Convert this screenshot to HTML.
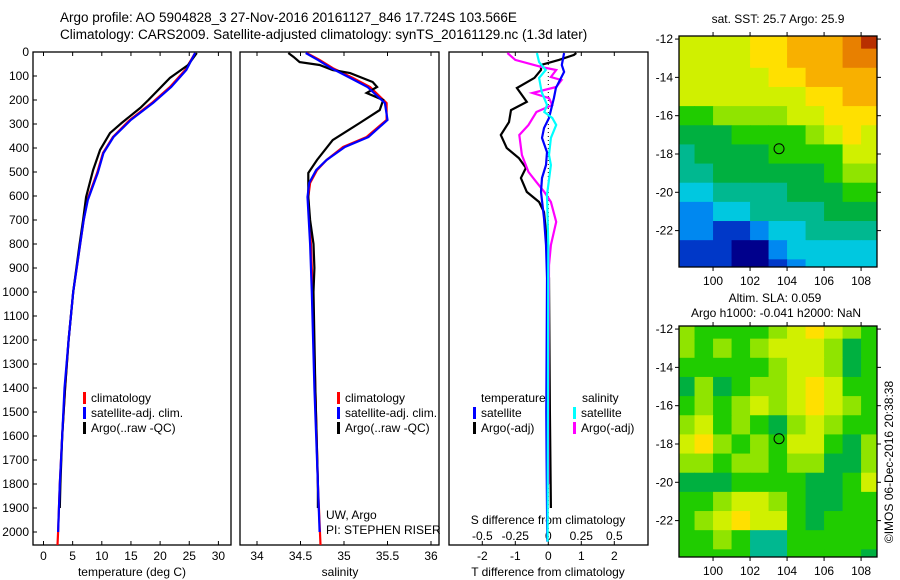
<!DOCTYPE html>
<html><head><meta charset="utf-8"><style>
body{margin:0;background:#fff}
svg{display:block;font-family:"Liberation Sans",sans-serif;font-size:12px}
</style></head><body>
<svg id="fig" width="900" height="580" viewBox="0 0 900 580">
<rect width="900" height="580" fill="#fff"/>
<text x="60" y="22" font-size="13.5">Argo profile: AO 5904828_3 27-Nov-2016 20161127_846 17.724S 103.566E</text>
<text x="60" y="39" font-size="13.5">Climatology: CARS2009. Satellite-adjusted climatology: synTS_20161129.nc (1.3d later)</text>
<g id="g"></g>
<text transform="translate(893,462) rotate(-90)" text-anchor="middle" font-size="12">©IMOS 06-Dec-2016 20:38:38</text>
</svg>
<script>
// ---------- profile data ----------
const tClimDepth=[4,75,146,212,283,354,421,504,617,700,800,1000,1200,1400,1600,1800,2000,2054];
const tClimVal=[26.0,24.3,21.7,18.6,14.8,11.9,10.2,9.2,7.5,6.9,6.3,5.1,4.3,3.7,3.2,2.8,2.5,2.4];
const tSatDepth=[4,75,146,212,283,354,421,504,617,700,800,1000,1200,1400,1600,1800,2000];
const tSatVal=[26.0,24.5,21.9,18.8,15.0,12.0,10.3,9.3,7.6,6.9,6.3,5.1,4.3,3.6,3.2,2.8,2.5];
const tArgoDepth=[4,54,108,200,233,296,338,408,492,604,700,800,1000,1200,1400,1600,1800,1900];
const tArgoVal=[26.3,24.8,21.7,18.0,16.6,13.4,11.4,9.7,8.5,7.3,6.8,6.2,5.1,4.3,3.7,3.2,2.9,2.8];
const sClimDepth=[4,33,67,108,146,213,283,354,396,450,492,546,604,800,1000,1400,1800,2054];
const sClimVal=[34.57,34.72,34.87,35.10,35.30,35.49,35.49,35.26,34.99,34.80,34.69,34.61,34.59,34.62,34.64,34.67,34.70,34.73];
const sSatDepth=[4,33,67,108,146,213,283,354,396,450,492,546,604,800,1000,1400,1800,2000];
const sSatVal=[34.56,34.70,34.85,35.07,35.27,35.47,35.50,35.28,35.01,34.80,34.68,34.60,34.58,34.61,34.63,34.66,34.70,34.72];
const sArgoDepth=[4,20,42,54,75,88,125,146,171,200,242,296,367,450,504,604,700,800,900,1000,1400,1800,1900];
const sArgoVal=[34.36,34.42,34.49,34.72,34.87,35.07,35.33,35.38,35.26,35.45,35.41,35.18,34.87,34.69,34.59,34.59,34.61,34.65,34.66,34.65,34.67,34.70,34.70];
const dTSatDepth=[4,54,83,150,192,275,317,358,417,471,525,583,692,804,942,1500,1700,2040];
const dTSatVal=[0.48,0.41,0.48,0.23,0.17,0.02,-0.13,-0.19,-0.04,-0.07,-0.19,-0.22,-0.13,-0.07,-0.04,-0.06,-0.05,-0.03];
const dTArgoDepth=[4,12,33,54,75,108,150,208,242,292,346,400,442,483,525,583,625,667,750,833,942,1500,1900];
const dTArgoVal=[0.85,0.78,0.32,-0.22,-0.22,-0.42,-0.95,-0.65,-1.13,-1.19,-1.44,-1.26,-0.89,-0.68,-0.83,-0.65,-0.28,-0.13,-0.07,-0.04,0.02,0.05,0.08];
const dSSatDepth=[4,42,75,108,167,221,250,275,304,358,429,471,596,804,2040];
const dSSatVal=[-0.086,-0.07,-0.02,-0.07,-0.05,-0.01,-0.03,0.03,0.06,0.02,0.005,0.02,-0.01,0,-0.005];
const dSArgoDepth=[4,33,63,75,104,117,146,171,192,221,250,304,346,429,500,542,583,625,708,804,888,1500,1800];
const dSArgoVal=[-0.31,-0.25,-0.05,0.06,0.02,0.10,0.06,-0.12,0.005,0.03,-0.09,-0.15,-0.22,-0.20,-0.15,-0.09,-0.03,0.02,0.06,0.02,0.005,0,0];
const depthTicks=[0,100,200,300,400,500,600,700,800,900,1000,1100,1200,1300,1400,1500,1600,1700,1800,1900,2000];
const tempTicks=[0,5,10,15,20,25,30];
const salTicks=[34,34.5,35,35.5,36];
const dTTicks=[-2,-1,0,1,2];
const dSTicks=[-0.5,-0.25,0,0.25,0.5];
// ---------- map data (rows lat -12..-24, cols lon 98.5..108.5) ----------
const sstGrid=[
[8,8,8,8,9,9,10,10,10,11,12],
[8,8,8,8,9,9,10,10,10,11,11],
[8,8,8,8,8,9,9,10,10,10,10],
[8,8,8,8,8,8,8,9,9,10,10],
[6,6,7,7,7,7,8,8,9,9,9],
[5,5,5,6,6,6,6,7,8,9,8],
[4,5,5,5,5,6,6,6,6,8,8],
[4,4,5,5,5,5,5,5,6,7,7],
[3,3,4,4,4,4,5,5,5,6,6],
[2,2,3,3,4,4,4,4,5,5,5],
[2,2,1,1,2,3,3,4,4,4,4],
[1,1,1,0,0,2,3,3,3,3,3],
[1,1,1,0,0,1,2,3,3,3,3]];
const slaGrid=[
[7,6,6,6,6,7,8,9,8,7,6],
[7,6,7,6,7,8,8,8,7,5,6],
[6,6,6,6,6,7,8,8,7,5,6],
[5,7,5,6,7,7,8,9,8,6,6],
[6,7,6,7,8,7,8,9,8,7,6],
[7,8,6,7,6,5,7,8,7,6,6],
[8,9,7,6,7,6,8,8,6,5,7],
[7,7,6,7,7,6,7,7,5,5,7],
[5,5,5,6,6,6,6,5,5,6,8],
[6,6,7,8,8,7,6,5,5,6,6],
[6,7,8,9,8,8,6,5,6,6,6],
[6,6,7,6,4,4,6,6,6,6,6],
[6,6,6,6,4,4,6,6,6,6,5]];
const lonTicks=[100,102,104,106,108];
const latTicks=[-12,-14,-16,-18,-20,-22];
const argoLon=103.566, argoLat=-17.724;

const NS='http://www.w3.org/2000/svg';
const G=document.getElementById('g');
function el(tag,attrs,parent){const e=document.createElementNS(NS,tag);for(const k in attrs)e.setAttribute(k,attrs[k]);(parent||G).appendChild(e);return e;}
function txt(x,y,s,anchor,parent){const t=el('text',{x:x,y:y,'text-anchor':anchor||'start'},parent);t.textContent=s;return t;}
const Y0=52,PB=545;
const yD=d=>Y0+d*0.24;
const panels=[
 {x0:33,x1:231,name:'temperature-panel'},
 {x0:240,x1:439,name:'salinity-panel'},
 {x0:449,x1:648,name:'difference-panel'}];
const xT=v=>43.5+v*5.83, xS=v=>257+(v-34)*87, xdT=v=>548.3+v*33, xdS=v=>548.3+v*132;
const defs=el('defs',{});
panels.forEach((p,i)=>{
 const c=el('clipPath',{id:'cp'+i},defs);el('rect',{x:p.x0,y:Y0,width:p.x1-p.x0,height:PB-Y0},c);
});
function line(dep,val,fx,color,ci,name){
 const pts=dep.map((d,i)=>fx(val[i]).toFixed(1)+','+yD(d).toFixed(1)).join(' ');
 const pl=el('polyline',{points:pts,fill:'none',stroke:color,'stroke-width':2.2,'clip-path':'url(#cp'+ci+')'});
 
 
}
panels.forEach((p,i)=>{
 const r=el('rect',{x:p.x0,y:Y0,width:p.x1-p.x0,height:PB-Y0,fill:'none',stroke:'#000','stroke-width':1.3});
 
 
});
depthTicks.forEach(d=>{
 el('line',{x1:33,x2:37,y1:yD(d),y2:yD(d),stroke:'#000'});
 const t=txt(29,yD(d)+4,String(d),'end');
 
 
});
function xticks(ticks,fx,p,labY){
 ticks.forEach(v=>{const x=fx(v);
  el('line',{x1:x,x2:x,y1:PB,y2:PB-4,stroke:'#000'});
  el('line',{x1:x,x2:x,y1:Y0,y2:Y0+4,stroke:'#000'});
  if(labY){const t=txt(x,labY,String(v),'middle');
   
   }
 });
}
xticks(tempTicks,xT,panels[0],560);
xticks(salTicks,xS,panels[1],560);
xticks(dTTicks,xdT,panels[2],560);
dSTicks.forEach(v=>{const t=txt(xdS(v),540,String(v),'middle');
 
 });
let t;
t=txt(132,576,'temperature (deg C)','middle');
t=txt(340,576,'salinity','middle');
t=txt(548,576,'T difference from climatology','middle');
t=txt(548,524,'S difference from climatology','middle');
el('line',{x1:548.3,x2:548.3,y1:Y0,y2:PB,stroke:'#000','stroke-dasharray':'1 3'});
line(tClimDepth,tClimVal,xT,'#f00',0,'temp-climatology-line');
line(tArgoDepth,tArgoVal,xT,'#000',0,'temp-argo-line');
line(tSatDepth,tSatVal,xT,'#00f',0,'temp-satellite-line');
line(sClimDepth,sClimVal,xS,'#f00',1,'sal-climatology-line');
line(sArgoDepth,sArgoVal,xS,'#000',1,'sal-argo-line');
line(sSatDepth,sSatVal,xS,'#00f',1,'sal-satellite-line');
line(dTArgoDepth,dTArgoVal,xdT,'#000',2,'t-diff-argo-line');
line(dSArgoDepth,dSArgoVal,xdS,'#f0f',2,'s-diff-argo-line');
line(dTSatDepth,dTSatVal,xdT,'#00f',2,'t-diff-satellite-line');
line(dSSatDepth,dSSatVal,xdS,'#0ff',2,'s-diff-satellite-line');
function leg(x,y,color,label,name){
 el('rect',{x:x,y:y-10,width:3,height:12,fill:color});
 const tt=txt(x+8,y,label);
 
 
}
[['#f00','climatology'],['#00f','satellite-adj. clim.'],['#000','Argo(..raw -QC)']].forEach((l,i)=>{
 leg(83,402+i*15,l[0],l[1],'legend-entry-temp');
 leg(337,402+i*15,l[0],l[1],'legend-entry-sal');
});
t=txt(481,402,'temperature');
t=txt(582,402,'salinity');
leg(473,417,'#00f','satellite','legend-entry-t-satellite');
leg(473,432,'#000','Argo(-adj)','legend-entry-t-argo');
leg(573,417,'#0ff','satellite','legend-entry-s-satellite');
leg(573,432,'#f0f','Argo(-adj)','legend-entry-s-argo');
t=txt(326,519,'UW, Argo');
t=txt(326,534,'PI: STEPHEN RISER');
// ---------- maps ----------
const cmap=['#00008c','#0038c8','#0088f0','#00c8e0','#00b890','#00b040','#20cc00','#90e400','#d0f000','#ffe000','#f8b000','#e88000','#b83000'];
const LON0=98.16,LON1=108.86,LAT0=-11.84,LAT1=-23.9;
function drawMap(top,grid,name,ci){
 const X0=679,X1=877,Y1=top+231;
 const lx=v=>X0+(v-LON0)/(LON1-LON0)*(X1-X0);
 const ly=v=>top+(v-LAT0)/(LAT1-LAT0)*(Y1-top);
 const c=el('clipPath',{id:'mc'+ci},defs);el('rect',{x:X0,y:top,width:X1-X0,height:Y1-top},c);
 const g=el('g',{'clip-path':'url(#mc'+ci+')'});
 
 
 grid.forEach((row,r)=>row.forEach((v,k)=>{
  const lon=98+k, lat=-11.5-r;
  const cell=el('rect',{x:lx(lon),y:ly(lat),width:lx(lon+1)-lx(lon)+0.5,height:ly(lat-1)-ly(lat)+0.5,fill:cmap[v]},g);
  
  
 }));
 const fr=el('rect',{x:X0,y:top,width:X1-X0,height:Y1-top,fill:'none',stroke:'#000','stroke-width':1.3});
 
 
 lonTicks.forEach(v=>{const x=lx(v);
  el('line',{x1:x,x2:x,y1:top-4,y2:top,stroke:'#000'});
  el('line',{x1:x,x2:x,y1:Y1,y2:Y1+4,stroke:'#000'});
  const tt=txt(x,Y1+18,String(v),'middle');
  
  });
 latTicks.forEach(v=>{const y=ly(v);
  el('line',{x1:X0-4,x2:X0,y1:y,y2:y,stroke:'#000'});
  el('line',{x1:X1,x2:X1+4,y1:y,y2:y,stroke:'#000'});
  const tt=txt(X0-6,y+4,String(v),'end');
  
  });
 const m=el('circle',{cx:lx(argoLon),cy:ly(argoLat),r:5,fill:cmap[grid[Math.round(-11.5-argoLat)][Math.floor(argoLon-98)]],stroke:'#000','stroke-width':1});
 
 
}
drawMap(36,sstGrid,'sst-map',0);
drawMap(326,slaGrid,'sla-map',1);
t=txt(778,23,'sat. SST: 25.7 Argo: 25.9','middle');
t=txt(775,302,'Altim. SLA: 0.059','middle');
t=txt(776,317,'Argo h1000: -0.041 h2000: NaN','middle');
</script>
</body></html>
